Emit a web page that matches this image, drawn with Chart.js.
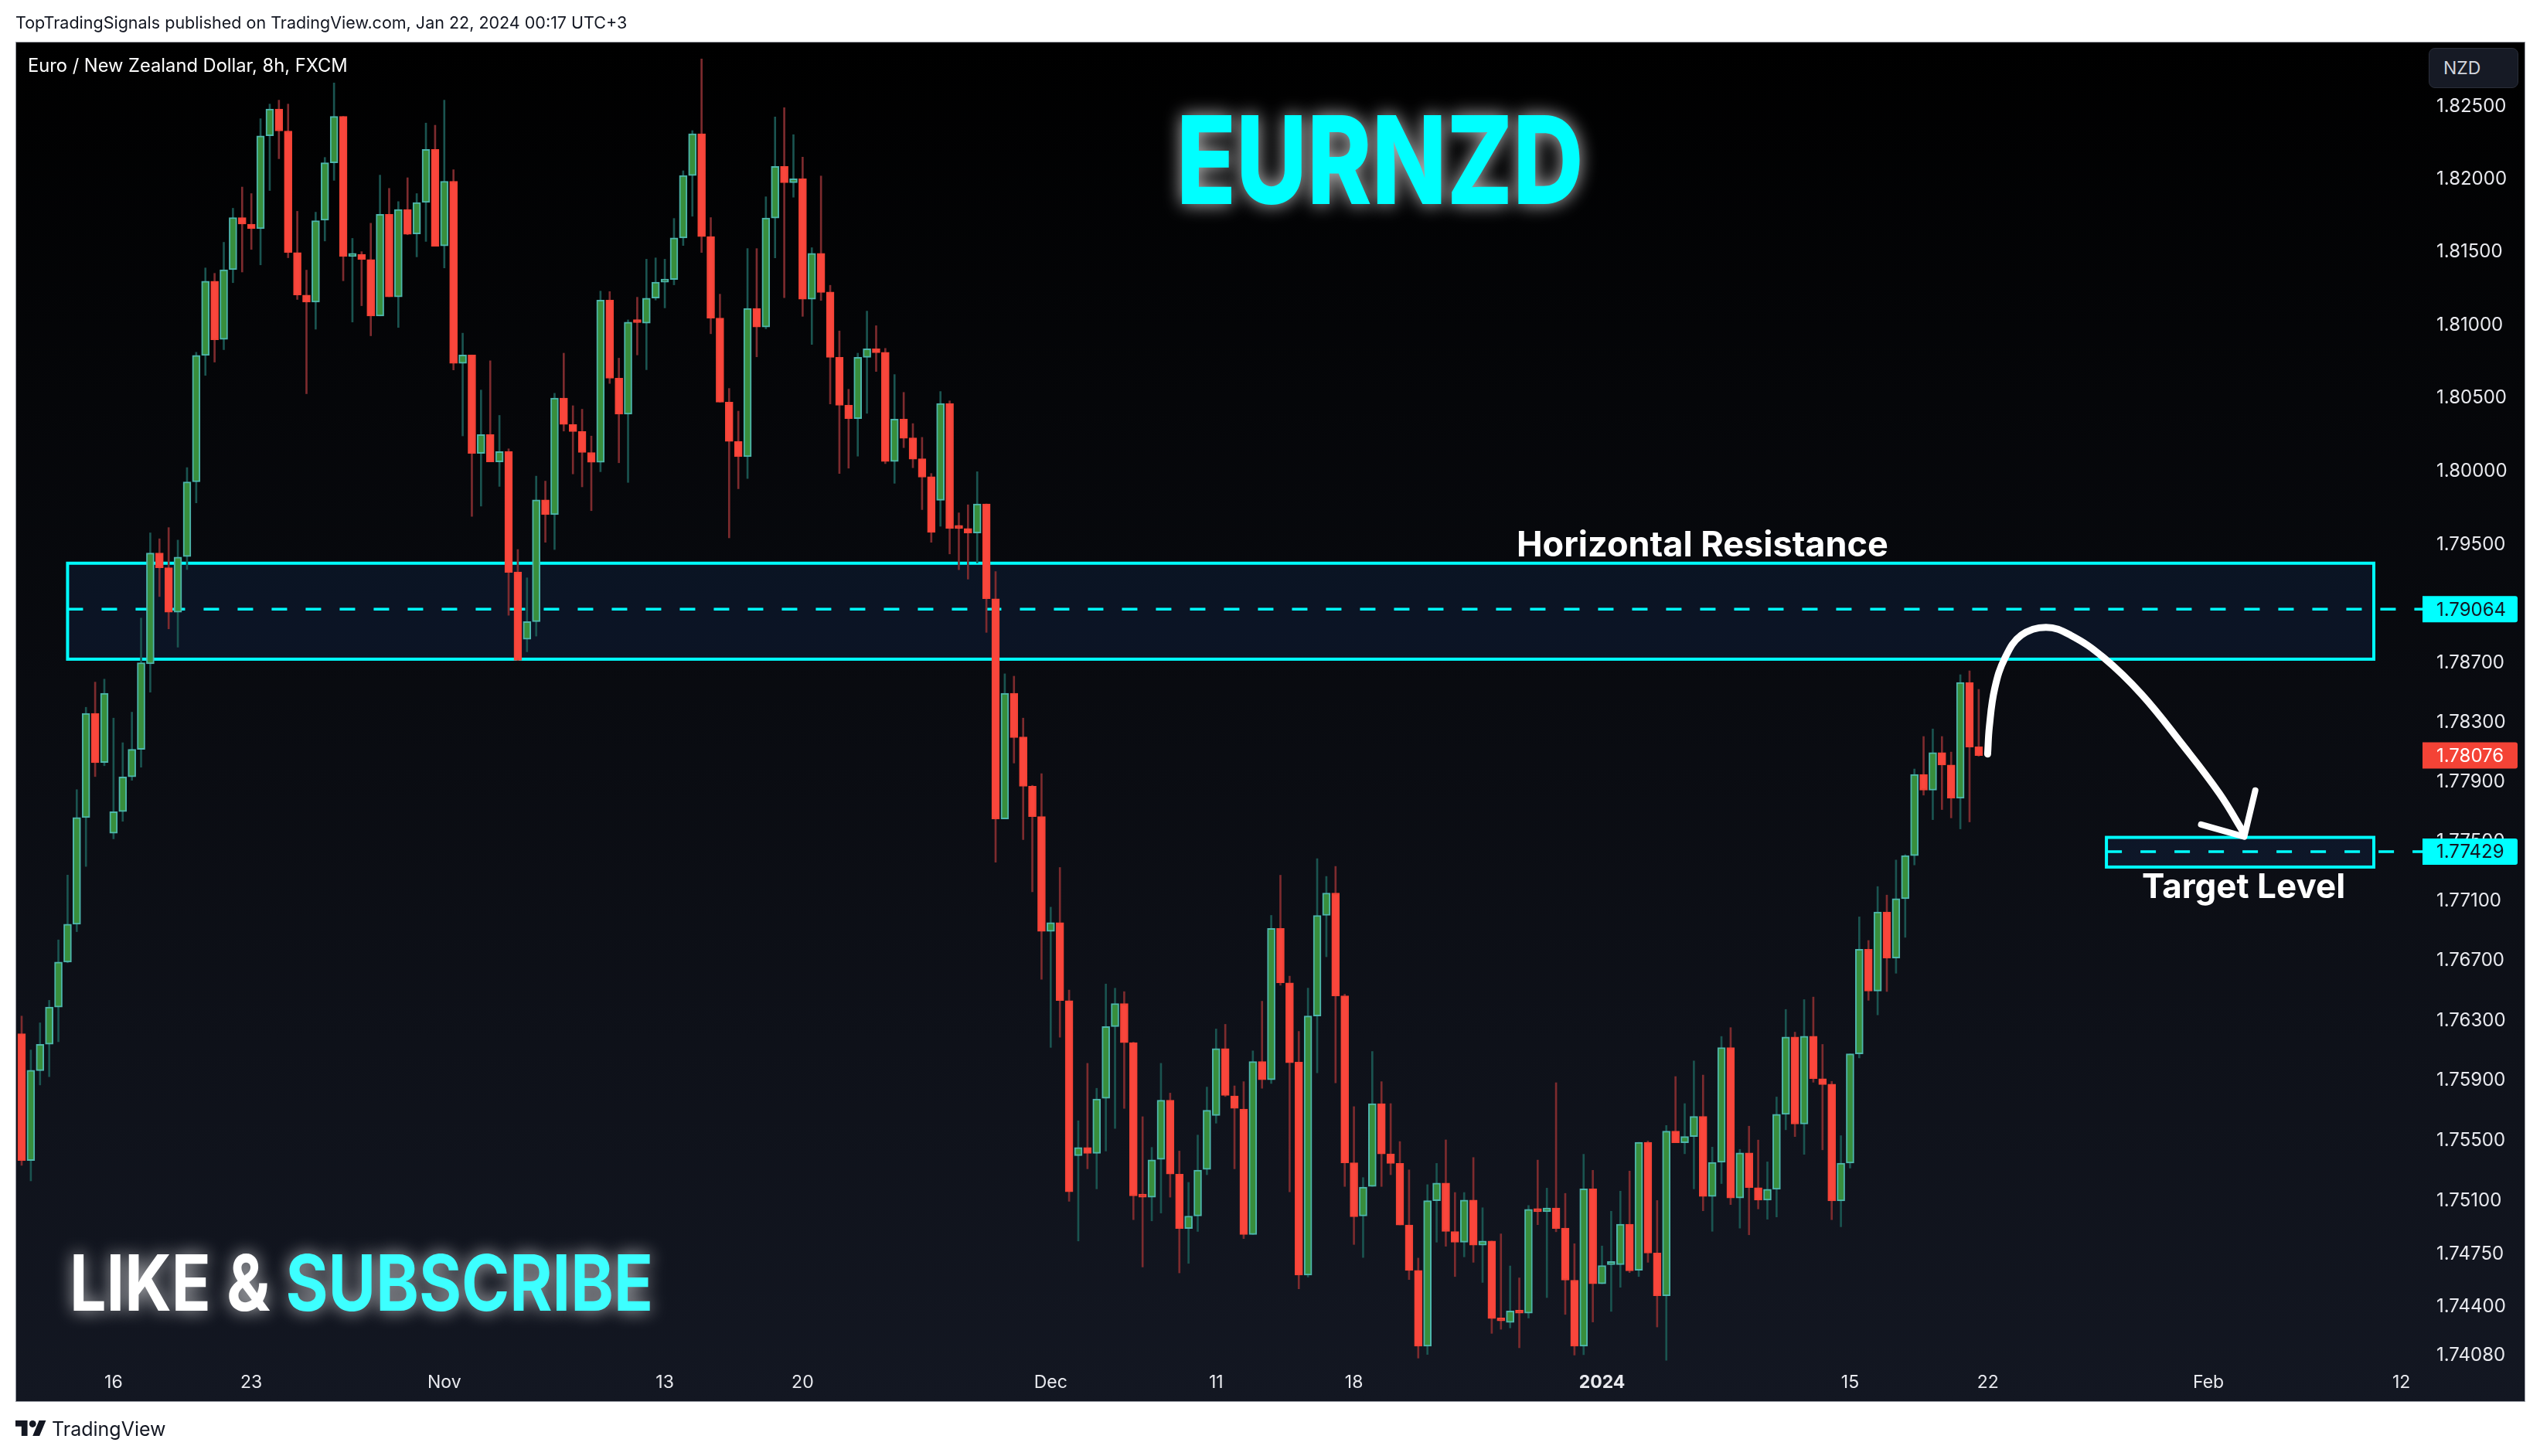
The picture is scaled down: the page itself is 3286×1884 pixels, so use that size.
<!DOCTYPE html>
<html>
<head>
<meta charset="utf-8">
<title>EURNZD</title>
<script src="https://cdn.jsdelivr.net/npm/chart.js@4"></script>
<style>
  html, body { margin: 0; padding: 0; background: #fff; }
  body { width: 3286px; height: 1884px; position: relative; overflow: hidden; font-family: Inter, "Noto Sans", sans-serif; }
  #panel { position: absolute; left: 20px; top: 54px; width: 3245px; height: 1758px; border: 1px solid #9598a1; background: linear-gradient(180deg, #000000 0%, #131722 100%); box-sizing: content-box; }
  canvas { position: absolute; left: 0; top: 0; }
  .txt { position: absolute; white-space: nowrap; line-height: 1; }
  #header { left: 20px; top: 19px; font-size: 21.5px; color: #131722; }
  #symbol { left: 36px; top: 73px; font-size: 23.7px; color: #fff; }
  #title { left: 1522px; top: 128px; font-size: 158px; font-weight: 800; color: #00ffff; transform: scaleX(.8); transform-origin: left top; text-shadow: 0 0 26px rgba(255,255,255,.75); }
  #subscribe { left: 90px; top: 1610px; font-size: 100px; font-weight: 700; color: #fff; transform: scaleX(.842); transform-origin: left top; text-shadow: 0 0 24px rgba(255,255,255,.7); }
  #subscribe span { color: #3dffff; }
  #resistance { left: 1962px; top: 681px; font-size: 45px; font-weight: 700; color: #fff; }
  #target { left: 2771px; top: 1124px; font-size: 44px; font-weight: 700; color: #fff; }
  #nzd { position: absolute; left: 3142px; top: 62px; width: 116px; height: 52px; box-sizing: border-box; background: #161a25; border: 1px solid #2a2e39; border-radius: 8px; color: #d1d4dc; font-size: 23px; line-height: 50px; padding-left: 18px; }
  #logo { position: absolute; left: 20px; top: 1838px; width: 40px; height: 20px; }
  #brand { left: 67px; top: 1837px; font-size: 25px; color: #131722; }
</style>
</head>
<body>
<div id="panel"></div>
<canvas id="chart" width="3286" height="1884"></canvas>
<div class="txt" id="header">TopTradingSignals published on TradingView.com, Jan 22, 2024 00:17 UTC+3</div>
<div class="txt" id="symbol">Euro / New Zealand Dollar, 8h, FXCM</div>
<div class="txt" id="title">EURNZD</div>
<div class="txt" id="subscribe">LIKE &amp; <span>SUBSCRIBE</span></div>
<div class="txt" id="resistance">Horizontal Resistance</div>
<div class="txt" id="target">Target Level</div>
<div id="nzd">NZD</div>
<svg id="logo" viewBox="0 0 36 18"><path fill="#131722" d="M14 18H7V7H0V0h14v18zM28 18h-8L27.5 0h8L28 18z"/><circle fill="#131722" cx="20" cy="4" r="4"/></svg>
<div class="txt" id="brand">TradingView</div>
<script>
const candleOpen = [
  1.76211,1.75368,1.75965,1.76141,1.76389,1.7669,1.76943,1.77658,1.7836,1.78029,
  1.77553,1.77698,1.77932,1.78117,1.78695,1.79445,1.79345,1.79044,1.79421,1.79929,
  1.80792,1.813,1.80901,1.81379,1.81737,1.81692,1.81661,1.823,1.82485,1.82333,
  1.81497,1.81205,1.81157,1.81719,1.82114,1.82434,1.8147,1.81485,1.81449,1.81062,
  1.81759,1.81193,1.81792,1.81625,1.81841,1.82206,1.81543,1.81987,1.80737,1.80795,
  1.80123,1.80251,1.80065,1.80135,1.79317,1.78861,1.7898,1.79806,1.79706,1.805,
  1.8032,1.80272,1.80129,1.80062,1.81171,1.80636,1.8039,1.81025,1.81013,1.81184,
  1.81293,1.81311,1.81597,1.82026,1.82314,1.81606,1.81047,1.80472,1.80205,1.80101,
  1.81114,1.80986,1.81734,1.82089,1.81977,1.82004,1.81177,1.81491,1.81226,1.80779,
  1.80451,1.8036,1.80779,1.80837,1.80813,1.80068,1.80357,1.80229,1.80086,1.79964,
  1.79803,1.80463,1.79624,1.79612,1.79581,1.79779,1.79135,1.77649,1.78496,1.78201,
  1.77869,1.77665,1.76895,1.76954,1.76432,1.754,1.75455,1.75416,1.75781,1.76259,
  1.76413,1.76152,1.75137,1.75125,1.75376,1.75769,1.75278,1.74917,1.75,1.75309,
  1.75667,1.76112,1.75797,1.7571,1.74878,1.76026,1.75904,1.76915,1.76551,1.76022,
  1.74609,1.7633,1.77002,1.77152,1.76464,1.75353,1.75,1.75196,1.75746,1.75412,
  1.75349,1.74941,1.7464,1.7414,1.75102,1.75219,1.74898,1.74827,1.75106,1.74808,
  1.74835,1.74323,1.74297,1.74373,1.74358,1.75047,1.75029,1.75053,1.7492,1.74576,
  1.74141,1.7518,1.74552,1.74679,1.74679,1.74946,1.74641,1.75489,1.74755,1.74473,
  1.75563,1.75486,1.75527,1.75661,1.7513,1.75356,1.76119,1.7512,1.75418,1.75188,
  1.75106,1.75177,1.75675,1.76189,1.7561,1.76195,1.75912,1.75876,1.751,1.75351,
  1.76077,1.76775,1.76496,1.77025,1.76716,1.77114,1.77403,1.77949,1.77842,1.78096,
  1.78012,1.77788,1.78569,1.78135
];
const candleHigh = [
  1.76329,1.76103,1.76284,1.76434,1.76838,1.77272,1.77846,1.78401,1.78571,1.78591,
  1.78328,1.78162,1.78368,1.79004,1.79582,1.79542,1.79618,1.79533,1.80026,1.80813,
  1.81391,1.81354,1.81567,1.81801,1.81947,1.81902,1.82418,1.82519,1.82546,1.82519,
  1.8178,1.81376,1.81774,1.82151,1.82665,1.82434,1.81594,1.81503,1.81698,1.82029,
  1.81938,1.81847,1.82011,1.81902,1.82388,1.82373,1.82546,1.82066,1.80944,1.80795,
  1.80555,1.80755,1.80382,1.80154,1.79469,1.79277,1.79968,1.79934,1.80533,1.80807,
  1.80448,1.80424,1.80241,1.81232,1.81229,1.80773,1.81035,1.8119,1.81451,1.8146,
  1.81451,1.81731,1.82059,1.82336,1.82831,1.81737,1.81211,1.80566,1.80411,1.81524,
  1.81524,1.8188,1.8243,1.82494,1.82308,1.82153,1.8153,1.82023,1.81272,1.80959,
  1.8056,1.80807,1.81095,1.80995,1.8084,1.80661,1.80539,1.80326,1.80232,1.79986,
  1.80545,1.80481,1.79718,1.79773,1.79998,1.79779,1.79319,1.78627,1.78611,1.78328,
  1.77875,1.77953,1.77057,1.77323,1.76503,1.75632,1.76014,1.75848,1.76543,1.76515,
  1.76492,1.76155,1.75659,1.75455,1.76014,1.75816,1.75431,1.75223,1.75537,1.75856,
  1.76243,1.76274,1.75864,1.75892,1.76097,1.76428,1.77002,1.77271,1.76595,1.76227,
  1.76515,1.77382,1.77263,1.7733,1.76475,1.75726,1.75255,1.76093,1.75892,1.75746,
  1.75494,1.75306,1.74722,1.75208,1.75349,1.75505,1.75156,1.75156,1.75388,1.75055,
  1.74835,1.74882,1.7467,1.74591,1.7507,1.75371,1.75185,1.75885,1.7515,1.74817,
  1.7541,1.75303,1.74802,1.75032,1.75165,1.75298,1.75489,1.75498,1.75103,1.75601,
  1.75926,1.75746,1.7603,1.75936,1.75457,1.76193,1.76252,1.75442,1.75596,1.75504,
  1.75359,1.7579,1.76373,1.76222,1.76439,1.76456,1.7614,1.75894,1.75533,1.76077,
  1.76992,1.76834,1.77195,1.77138,1.77373,1.77409,1.77985,1.78204,1.78255,1.78204,
  1.78099,1.78621,1.78647,1.78522
];
const candleLow = [
  1.75336,1.75233,1.7587,1.75925,1.76158,1.76685,1.76893,1.7733,1.77934,1.78007,
  1.77515,1.77633,1.77909,1.77997,1.78503,1.7915,1.78931,1.78807,1.79333,1.79786,
  1.80655,1.80746,1.80831,1.8129,1.81363,1.81518,1.81412,1.81923,1.82142,1.81461,
  1.81175,1.8053,1.80971,1.81576,1.81993,1.81303,1.8102,1.81132,1.80926,1.81062,
  1.81193,1.80983,1.81619,1.81467,1.81573,1.8154,1.81391,1.80692,1.80242,1.79694,
  1.79764,1.80065,1.79898,1.79023,1.78718,1.78776,1.78882,1.79518,1.79469,1.80275,
  1.79983,1.79895,1.79733,1.79998,1.806,1.80059,1.79925,1.80795,1.80694,1.81171,
  1.81117,1.81275,1.81545,1.81746,1.81497,1.8094,1.80472,1.79548,1.79882,1.79952,
  1.80782,1.80974,1.8146,1.81187,1.81877,1.81059,1.80867,1.81168,1.8046,1.79986,
  1.80022,1.80104,1.80396,1.80682,1.80053,1.79919,1.80162,1.80025,1.7974,1.79518,
  1.79627,1.79439,1.79332,1.79268,1.79378,1.78907,1.77358,1.77649,1.78025,1.7751,
  1.7716,1.76575,1.7612,1.76188,1.75098,1.74835,1.75313,1.7518,1.75431,1.75581,
  1.75714,1.74976,1.74663,1.74968,1.7502,1.75125,1.74624,1.74687,1.74898,1.75274,
  1.75616,1.75793,1.75313,1.74851,1.74878,1.75848,1.7588,1.76535,1.7516,1.74519,
  1.74597,1.75951,1.76725,1.75884,1.75196,1.74812,1.74726,1.75196,1.75196,1.75274,
  1.74941,1.7458,1.74062,1.74086,1.74827,1.748,1.746,1.7473,1.74694,1.74561,
  1.74225,1.74252,1.74261,1.7413,1.74326,1.74943,1.74461,1.74896,1.7435,1.74082,
  1.74085,1.743,1.74552,1.7437,1.74529,1.74626,1.746,1.74694,1.74267,1.74048,
  1.75486,1.75413,1.7518,1.75035,1.74899,1.75215,1.75076,1.7492,1.74876,1.75047,
  1.74979,1.74994,1.75572,1.75527,1.75409,1.75888,1.75439,1.74976,1.74929,1.75318,
  1.7605,1.76434,1.76337,1.76493,1.76615,1.76855,1.7734,1.77809,1.77644,1.77712,
  1.77656,1.77582,1.77629,1.78071
];
const candleClose = [
  1.75368,1.75968,1.76141,1.76389,1.7669,1.76943,1.77658,1.7836,1.78027,1.78496,
  1.77698,1.77932,1.78117,1.78702,1.79445,1.79345,1.79044,1.79418,1.79929,1.80792,
  1.813,1.80898,1.81379,1.81737,1.81692,1.81661,1.823,1.82485,1.82333,1.81497,
  1.81205,1.81157,1.81716,1.82114,1.82434,1.8147,1.81485,1.81449,1.81062,1.81759,
  1.81193,1.81792,1.81622,1.81841,1.82206,1.8154,1.81987,1.80737,1.80795,1.80123,
  1.80251,1.80065,1.80135,1.79314,1.78718,1.7898,1.79806,1.79706,1.805,1.8032,
  1.80272,1.80129,1.80062,1.81171,1.80636,1.8039,1.81019,1.81016,1.81184,1.81293,
  1.81308,1.81597,1.82026,1.82314,1.81606,1.81047,1.80472,1.80205,1.80101,1.81114,
  1.80986,1.81734,1.82089,1.81977,1.82004,1.81177,1.81491,1.81223,1.80779,1.80451,
  1.8036,1.80779,1.80837,1.8081,1.80068,1.80357,1.80226,1.80083,1.79961,1.79585,
  1.80463,1.79612,1.79612,1.79581,1.79779,1.79135,1.77649,1.78496,1.78197,1.77869,
  1.77665,1.76895,1.76954,1.76432,1.7516,1.75455,1.75416,1.75777,1.76259,1.76413,
  1.76152,1.75133,1.75125,1.75372,1.75769,1.75278,1.74917,1.75,1.75305,1.75702,
  1.76112,1.75801,1.75714,1.74878,1.76026,1.75904,1.76915,1.76551,1.76018,1.74609,
  1.7633,1.77002,1.77152,1.76464,1.75353,1.74996,1.75192,1.75746,1.75412,1.75349,
  1.74941,1.7464,1.7414,1.75102,1.75219,1.74898,1.74827,1.75106,1.74808,1.74835,
  1.74323,1.74307,1.74373,1.74358,1.75044,1.75029,1.75053,1.74917,1.74576,1.74141,
  1.7518,1.74552,1.74673,1.74688,1.74946,1.74638,1.75489,1.74755,1.74473,1.75563,
  1.75486,1.75527,1.75661,1.7513,1.75356,1.76119,1.7512,1.75418,1.75188,1.75106,
  1.75177,1.75675,1.76189,1.7561,1.76195,1.75912,1.75873,1.751,1.75351,1.76077,
  1.76775,1.76496,1.77025,1.76716,1.77114,1.77403,1.77949,1.77842,1.78096,1.78012,
  1.77788,1.78569,1.78133,1.78076
];

const priceTicks = [1.825, 1.82, 1.815, 1.81, 1.805, 1.8, 1.795, 1.787, 1.783, 1.779, 1.775, 1.771, 1.767, 1.763, 1.759, 1.755, 1.751, 1.7475, 1.744, 1.7408];
const timeTickIndex = [10, 25, 46, 70, 85, 112, 130, 145, 172, 199, 214, 238, 259];
const timeTickLabels = ["16", "23", "Nov", "13", "20", "Dec", "11", "18", "2024", "15", "22", "Feb", "12"];

const zoneStart = [5, 226.9];
const zoneEnd = [256, 256];
const zoneTop = [1.79376, 1.77525];
const zoneBottom = [1.78726, 1.77326];
const levelPrices = [1.79064, 1.77429];
const lastPrice = 1.78076;

const arrowIndex = [213.97, 214.16, 214.74, 215.87, 217.63, 220.32, 223, 226.6, 230.7, 235.1, 239.2, 241.9];
const arrowPrice = [1.78085, 1.78271, 1.78527, 1.78736, 1.78888, 1.78942, 1.78888, 1.78736, 1.7849, 1.78155, 1.7782, 1.7755];
const headIndex = [237.2, 241.9, 243.1];
const headPrice = [1.77612, 1.7753, 1.77841];

const GREEN_FILL = "#388e3c";
const GREEN_EDGE = "#4db6ac";
const GREEN_WICK = "#1a5450";
const RED_FILL = "#f9463c";
const RED_EDGE = "#f44336";
const RED_WICK = "#7d2b2e";
const CYAN = "#00ffff";
const AXIS_MIN = -0.673;
const AXIS_MAX = 261.3;

const isUp = candleOpen.map((o, i) => candleClose[i] >= o);

// price boxes sit under the candles
const zonesPlugin = {
  id: "zones",
  beforeDatasetsDraw(chart) {
    const { ctx, scales: { x, y } } = chart;
    ctx.save();
    zoneStart.forEach((start, i) => {
      const left = x.getPixelForValue(start);
      const right = x.getPixelForValue(zoneEnd[i]);
      const top = y.getPixelForValue(zoneTop[i]);
      const bottom = y.getPixelForValue(zoneBottom[i]);
      ctx.fillStyle = "rgba(20,45,85,0.32)";
      ctx.fillRect(left, top, right - left, bottom - top);
      ctx.strokeStyle = CYAN;
      ctx.lineWidth = 4;
      ctx.strokeRect(left, top, right - left, bottom - top);
    });
    ctx.restore();
  }
};

// price tags on the axis
const tagsPlugin = {
  id: "tags",
  afterDraw(chart) {
    const { ctx, chartArea, scales: { y } } = chart;
    const tags = [
      { value: levelPrices[0], bg: CYAN, fg: "#131722" },
      { value: lastPrice, bg: "#f44336", fg: "#ffffff" },
      { value: levelPrices[1], bg: CYAN, fg: "#131722" }
    ];
    ctx.save();
    ctx.font = "24px Inter";
    ctx.textBaseline = "middle";
    tags.forEach((tag) => {
      const py = y.getPixelForValue(tag.value);
      ctx.fillStyle = tag.bg;
      ctx.beginPath();
      ctx.roundRect(chartArea.right, py - 17, 123, 34, [0, 3, 3, 0]);
      ctx.fill();
      ctx.fillStyle = tag.fg;
      ctx.fillText(tag.value.toFixed(5), chartArea.right + 18, py + 1);
    });
    ctx.restore();
  }
};

const levelSets = levelPrices.map((price, i) => ({
  type: "line",
  data: [{ x: zoneStart[i], y: price }, { x: AXIS_MAX, y: price }],
  borderColor: CYAN,
  borderWidth: 3.5,
  borderDash: [20, 24],
  pointRadius: 0,
  order: 5
}));

const chart = new Chart(document.getElementById("chart"), {
  type: "bar",
  data: {
    datasets: [
      ...levelSets,
      {
        data: candleOpen.map((o, i) => ({ x: i, y: [candleLow[i], candleHigh[i]] })),
        backgroundColor: isUp.map(up => up ? GREEN_WICK : RED_WICK),
        borderWidth: 0,
        barThickness: 2,
        grouped: false,
        order: 3
      },
      {
        data: candleOpen.map((o, i) => ({ x: i, y: [o, candleClose[i]] })),
        backgroundColor: isUp.map(up => up ? GREEN_FILL : RED_FILL),
        borderColor: isUp.map(up => up ? GREEN_EDGE : RED_EDGE),
        borderWidth: 2,
        borderSkipped: false,
        barThickness: 10,
        minBarLength: 4,
        grouped: false,
        order: 2
      },
      {
        type: "line",
        data: arrowIndex.map((x, i) => ({ x, y: arrowPrice[i] })),
        borderColor: "#ffffff",
        borderWidth: 9,
        borderCapStyle: "round",
        tension: 0.4,
        pointRadius: 0,
        order: 1
      },
      {
        type: "line",
        data: headIndex.map((x, i) => ({ x, y: headPrice[i] })),
        borderColor: "#ffffff",
        borderWidth: 8,
        borderCapStyle: "round",
        borderJoinStyle: "round",
        pointRadius: 0,
        order: 1
      }
    ]
  },
  options: {
    responsive: false,
    animation: false,
    devicePixelRatio: 1,
    layout: { padding: { left: 20, top: 54, right: 20, bottom: 71 } },
    plugins: { legend: { display: false }, tooltip: { enabled: false } },
    scales: {
      x: {
        type: "linear",
        min: AXIS_MIN,
        max: AXIS_MAX,
        offset: false,
        grid: { display: false, drawTicks: false },
        border: { display: false },
        afterBuildTicks(scale) {
          scale.ticks = timeTickIndex.map(value => ({ value }));
        },
        afterFit(scale) { scale.height = 48; },
        ticks: {
          autoSkip: false,
          maxRotation: 0,
          padding: 10,
          color: "#e8e9ee",
          font: (ctx) => ({ family: "Inter", size: 23, weight: timeTickLabels[ctx.index] === "2024" ? "700" : "400" }),
          callback: (value, index) => timeTickLabels[index]
        }
      },
      y: {
        type: "logarithmic",
        position: "right",
        min: 1.74023,
        max: 1.8295,
        bounds: "data",
        grid: { display: false, drawTicks: false },
        border: { display: false },
        afterBuildTicks(scale) {
          scale.ticks = priceTicks.map(value => ({ value }));
        },
        afterFit(scale) { scale.width = 132; },
        ticks: {
          autoSkip: false,
          padding: 18,
          color: "#e8e9ee",
          font: { family: "Inter", size: 24 },
          callback: value => Number(value).toFixed(5)
        }
      }
    }
  },
  plugins: [zonesPlugin, tagsPlugin]
});
</script>
</body>
</html>
